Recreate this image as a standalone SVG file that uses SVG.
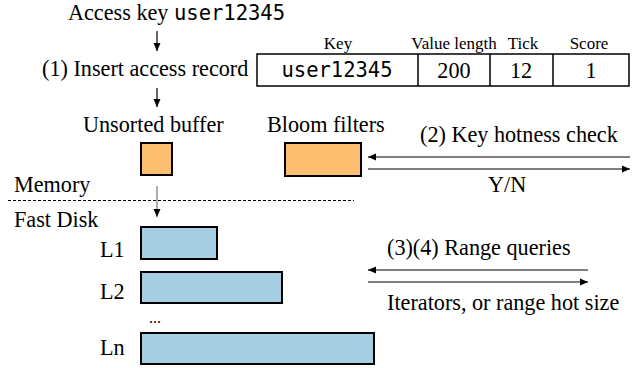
<svg xmlns="http://www.w3.org/2000/svg" width="641" height="368" viewBox="0 0 641 368">
<style>
text{font-size:22.2px;fill:#000}
.mono{font-family:'DejaVu Sans Mono','Liberation Mono',monospace;font-size:20.5px}
.hdr{font-size:17px}
.mid{text-anchor:middle}
.org{fill:#FDBF6F;stroke:#000;stroke-width:2}
.blu{fill:#A6CEE3;stroke:#000;stroke-width:2}
.cell{fill:#fff;stroke:#000;stroke-width:1.5}
.ln{stroke:#000;stroke-width:1.2;fill:none}
</style>
<defs>
<marker id="ah" markerUnits="userSpaceOnUse" markerWidth="10" markerHeight="8" refX="8" refY="4" orient="auto">
<path d="M0,0.5 L8,4 L0,7.5 Z" fill="#000"/>
</marker>
</defs>
<g font-family="'Liberation Serif', Tinos, 'Times New Roman', serif">
<g id="title">
<text x="68" y="20">Access key <tspan class="mono">user12345</tspan></text>
</g>

<g id="insert-label">
<text x="42" y="76">(1) Insert access record</text>
</g>

<g id="record-table">
<text class="hdr mid" x="338" y="49">Key</text>
<text class="hdr mid" x="454" y="49">Value length</text>
<text class="hdr mid" x="523" y="49">Tick</text>
<text class="hdr mid" x="589" y="49">Score</text>
<rect class="cell" x="257" y="54" width="372" height="32"/>
<line class="ln" x1="418" y1="54" x2="418" y2="86" style="stroke-width:1.5"/>
<line class="ln" x1="490" y1="54" x2="490" y2="86" style="stroke-width:1.5"/>
<line class="ln" x1="553" y1="54" x2="553" y2="86" style="stroke-width:1.5"/>
<text class="mono mid" x="337" y="77">user12345</text>
<text class="mid" x="454" y="78">200</text>
<text class="mid" x="521" y="78">12</text>
<text class="mid" x="591" y="78">1</text>
</g>

<g id="unsorted-buffer">
<text x="83" y="132">Unsorted buffer</text>
<rect class="org" x="141" y="143" width="31" height="32"/>
</g>

<g id="bloom-filters">
<text x="267" y="132">Bloom filters</text>
<rect class="org" x="285" y="143" width="76" height="33"/>
</g>

<g id="memory-divider">
<text x="14" y="192">Memory</text>
<line x1="8" y1="200.5" x2="354" y2="200.5" stroke="#000" stroke-width="1" stroke-dasharray="3,2"/>
<text x="14" y="227">Fast Disk</text>
</g>

<g id="L1">
<text x="100" y="257">L1</text>
<rect class="blu" x="141" y="227" width="76" height="32"/>
</g>
<g id="L2">
<text x="100" y="299">L2</text>
<rect class="blu" x="141" y="272" width="141" height="31"/>
</g>
<g id="dots">
<text x="149" y="323" style="font-size:16px">...</text>
</g>
<g id="Ln">
<text x="100" y="355">Ln</text>
<rect class="blu" x="141" y="333" width="233" height="31"/>
</g>

<g id="connectors">
<line class="ln" x1="157" y1="31" x2="157" y2="51" marker-end="url(#ah)"/>
<line class="ln" x1="157" y1="88" x2="157" y2="107" marker-end="url(#ah)"/>
<line class="ln" x1="157" y1="186" x2="157" y2="217" marker-end="url(#ah)" style="stroke:#777"/>
<line class="ln" x1="630" y1="157" x2="368" y2="157" marker-end="url(#ah)"/>
<line class="ln" x1="368" y1="169" x2="630" y2="169" marker-end="url(#ah)"/>
<line class="ln" x1="588" y1="270" x2="368" y2="270" marker-end="url(#ah)"/>
<line class="ln" x1="368" y1="282" x2="588" y2="282" marker-end="url(#ah)"/>
</g>

<g id="labels">
<text x="420" y="142">(2) Key hotness check</text>
<text x="488" y="192">Y/N</text>
<text x="387" y="255">(3)(4) Range queries</text>
<text x="387" y="310">Iterators, or range hot size</text>
</g>
</g>
</svg>
